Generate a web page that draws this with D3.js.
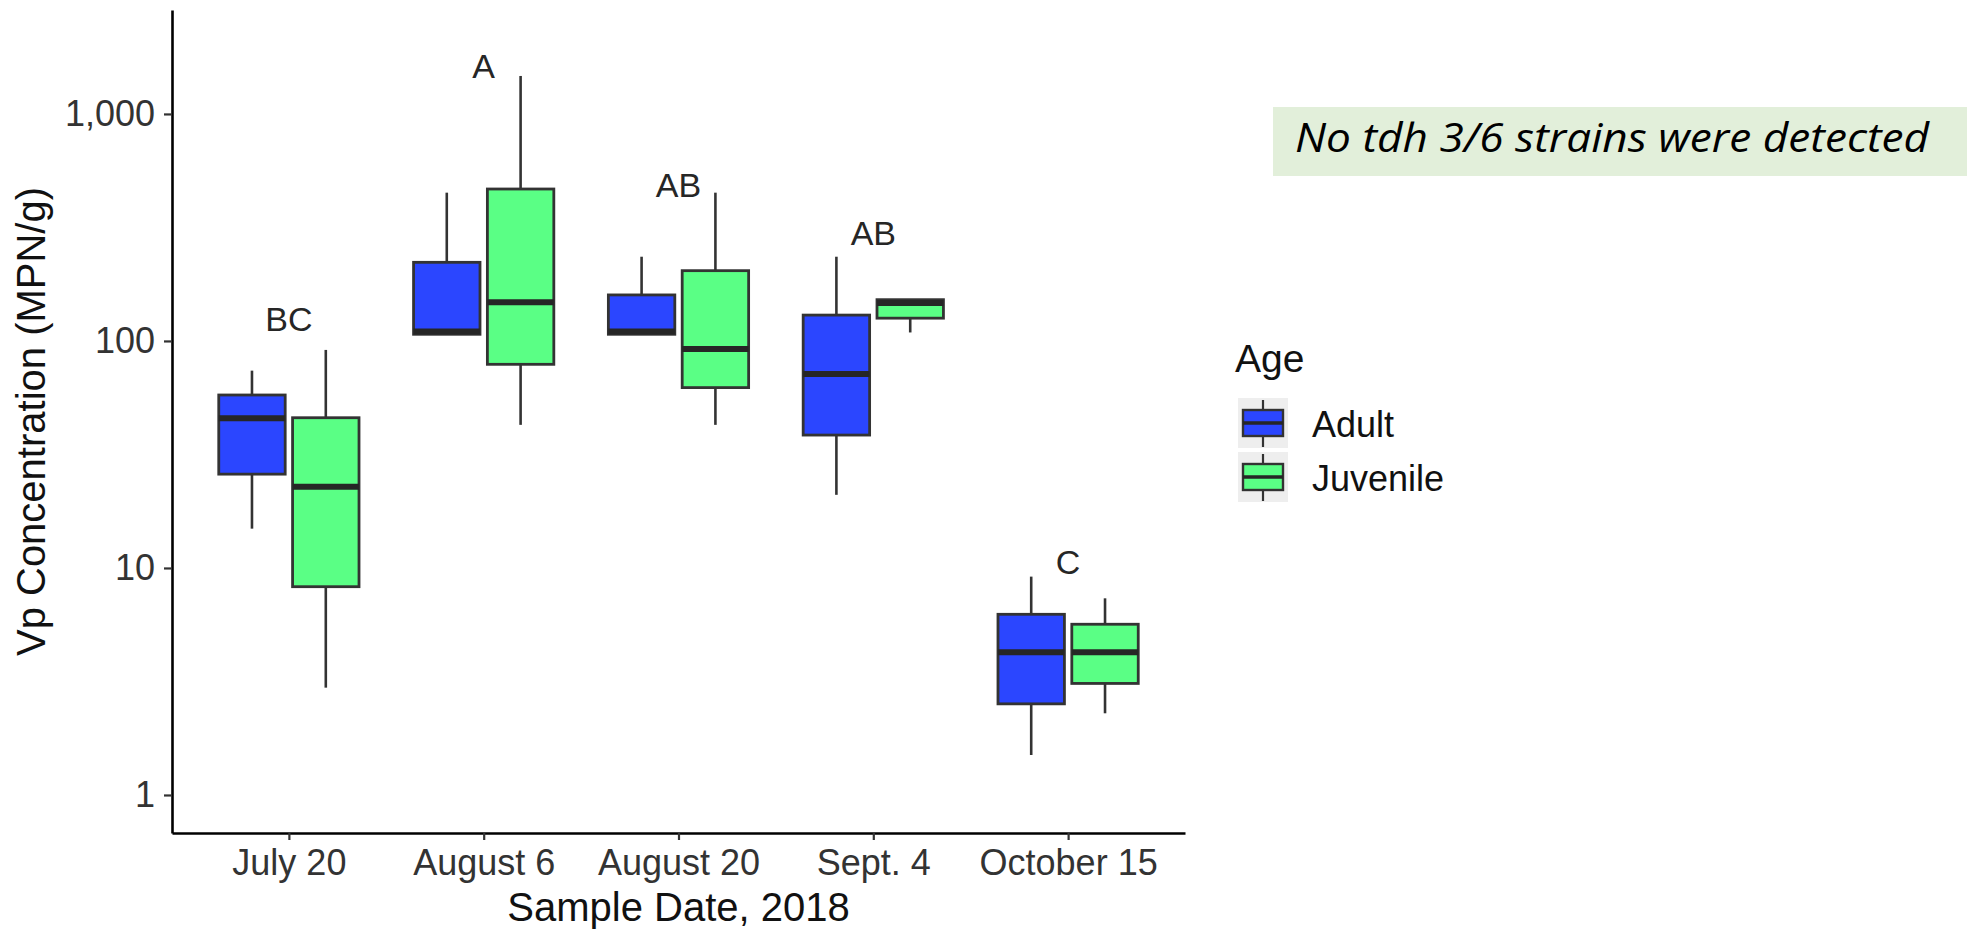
<!DOCTYPE html>
<html>
<head>
<meta charset="utf-8">
<script src="https://cdn.jsdelivr.net/npm/d3@7"></script>
<style>
  body { margin: 0; background: #fff; }
  svg { display: block; font-family: "Liberation Sans", Arial, sans-serif; }
</style>
</head>
<body>
<div class="chart"></div>
<script>
// values
const dates = ['July 20', 'August 6', 'August 20', 'Sept. 4', 'October 15'];
const ages = ['Adult', 'Juvenile'];
// [min, q1, median, q3, max] for each date
const adultStats = [
  [14.9, 25.9, 45.6, 57.8, 74],
  [107, 107, 110, 222, 450],
  [107, 107, 110, 159.5, 235],
  [21, 38.5, 71.6, 130, 235],
  [1.5, 2.52, 4.25, 6.25, 9.16]
];
const juvenileStats = [
  [2.97, 8.27, 22.8, 45.9, 91.3],
  [42.7, 78.9, 148, 467, 1470],
  [42.7, 62.3, 92.2, 204, 450],
  [109, 126, 147, 152, 152],
  [2.29, 3.1, 4.25, 5.65, 7.35]
];
const letters = ['BC', 'A', 'AB', 'AB', 'C'];
const letterAt = [125, 1630, 487, 299, 10.7];
const yTicks = [1, 10, 100, 1000];
const ageColors = ['#2b46ff', '#5aff85'];
const note = 'No tdh 3/6 strains were detected';

const width = 1967, height = 931;
const panel = {left: 172, top: 10, right: 1185, bottom: 833};

const svg = d3.select('.chart').append('svg')
  .attr('width', width).attr('height', height);

// scales
const x = d3.scalePoint().domain(dates)
  .range([panel.left, panel.right]).padding(0.6);
const step = x.step();
const xAge = d3.scaleBand().domain(ages)
  .range([-0.36 * step, 0.36 * step]).paddingInner(0.1);
const y = d3.scaleLog().domain([0.68, 2870]).range([panel.bottom, panel.top]);
const fill = d3.scaleOrdinal().domain(ages).range(ageColors);

const boxes = dates.flatMap((d, i) => ages.map((a, j) => ({
  date: d, age: a, s: j ? juvenileStats[i] : adultStats[i]
})));

// boxes
const g = svg.append('g');
const bw = xAge.bandwidth();
const box = g.selectAll('.box').data(boxes).join('g').attr('class', 'box')
  .attr('transform', d => `translate(${x(d.date) + xAge(d.age)},0)`);

box.append('line') // upper whisker
  .attr('x1', bw / 2).attr('x2', bw / 2)
  .attr('y1', d => y(d.s[3])).attr('y2', d => y(d.s[4]))
  .attr('stroke', '#333').attr('stroke-width', 2.6);
box.append('line') // lower whisker
  .attr('x1', bw / 2).attr('x2', bw / 2)
  .attr('y1', d => y(d.s[1])).attr('y2', d => y(d.s[0]))
  .attr('stroke', '#333').attr('stroke-width', 2.6);
box.append('rect')
  .attr('x', 0).attr('width', bw)
  .attr('y', d => y(d.s[3]))
  .attr('height', d => y(d.s[1]) - y(d.s[3]))
  .attr('fill', d => fill(d.age))
  .attr('stroke', '#333').attr('stroke-width', 2.8);
box.append('line') // median
  .attr('x1', 0).attr('x2', bw)
  .attr('y1', d => y(d.s[2])).attr('y2', d => y(d.s[2]))
  .attr('stroke', '#262626').attr('stroke-width', 6);

// significance letters
g.selectAll('.letter').data(dates).join('text').attr('class', 'letter')
  .attr('x', d => x(d))
  .attr('y', (d, i) => y(letterAt[i]))
  .attr('dy', '0.36em')
  .attr('text-anchor', 'middle')
  .style('font-size', '34px').style('fill', '#262626')
  .text((d, i) => letters[i]);

// axes
const xAxis = d3.axisBottom(x).tickSize(7).tickSizeOuter(0);
const xAxisDraw = svg.append('g').attr('class', 'x axis')
  .attr('transform', `translate(0,${panel.bottom})`)
  .call(xAxis);
xAxisDraw.selectAll('text').attr('y', 42).attr('dy', 0)
  .style('font-size', '36px').style('fill', '#333');

const yAxis = d3.axisLeft(y).tickValues(yTicks)
  .tickFormat(d3.format(',')).tickSize(8).tickPadding(9).tickSizeOuter(0);
const yAxisDraw = svg.append('g').attr('class', 'y axis')
  .attr('transform', `translate(${panel.left},0)`)
  .call(yAxis);
yAxisDraw.selectAll('text').style('font-size', '36px').style('fill', '#333');

svg.selectAll('.axis .domain').attr('stroke', '#000').attr('stroke-width', 2.6);
svg.selectAll('.axis .tick line').attr('stroke', '#333').attr('stroke-width', 2.2);
svg.selectAll('.axis text').style('font-family', '"Liberation Sans", Arial, sans-serif');

// axis titles
svg.append('text')
  .attr('x', (panel.left + panel.right) / 2).attr('y', 921)
  .attr('text-anchor', 'middle')
  .style('font-size', '40px').style('fill', '#111')
  .text('Sample Date, 2018');
svg.append('text')
  .attr('transform', `translate(45,${(panel.top + panel.bottom) / 2}) rotate(-90)`)
  .attr('text-anchor', 'middle')
  .style('font-size', '40px').style('fill', '#111')
  .text('Vp Concentration (MPN/g)');

// legend
const legend = svg.append('g').attr('transform', 'translate(1235,0)');
legend.append('text').attr('x', 0).attr('y', 372)
  .style('font-size', '39px').style('fill', '#111').text('Age');
const key = legend.selectAll('.key').data(ages).join('g').attr('class', 'key')
  .attr('transform', (d, i) => `translate(3,${398 + i * 54})`);
key.append('rect').attr('width', 50).attr('height', 50).attr('fill', '#eeeeee');
key.append('line').attr('x1', 25).attr('x2', 25).attr('y1', 2).attr('y2', 49)
  .attr('stroke', '#333').attr('stroke-width', 2.2);
key.append('rect').attr('x', 5).attr('y', 12).attr('width', 40).attr('height', 26)
  .attr('fill', d => fill(d)).attr('stroke', '#333').attr('stroke-width', 2.4);
key.append('line').attr('x1', 5).attr('x2', 45).attr('y1', 25).attr('y2', 25)
  .attr('stroke', '#262626').attr('stroke-width', 3.5);
key.append('text').attr('x', 74).attr('y', 25).attr('dy', '0.38em')
  .style('font-size', '36px').style('fill', '#111').text(d => d);

// note box
svg.append('rect').attr('x', 1273).attr('y', 107).attr('width', 694).attr('height', 69)
  .attr('fill', '#e2efda');
svg.append('text').attr('x', 1295).attr('y', 152)
  .attr('textLength', 634).attr('lengthAdjust', 'spacingAndGlyphs')
  .style('font-family', '"Open Sans", "Noto Sans", sans-serif')
  .style('font-style', 'italic').style('font-size', '41px').style('fill', '#000')
  .text(note);
</script>
</body>
</html>
